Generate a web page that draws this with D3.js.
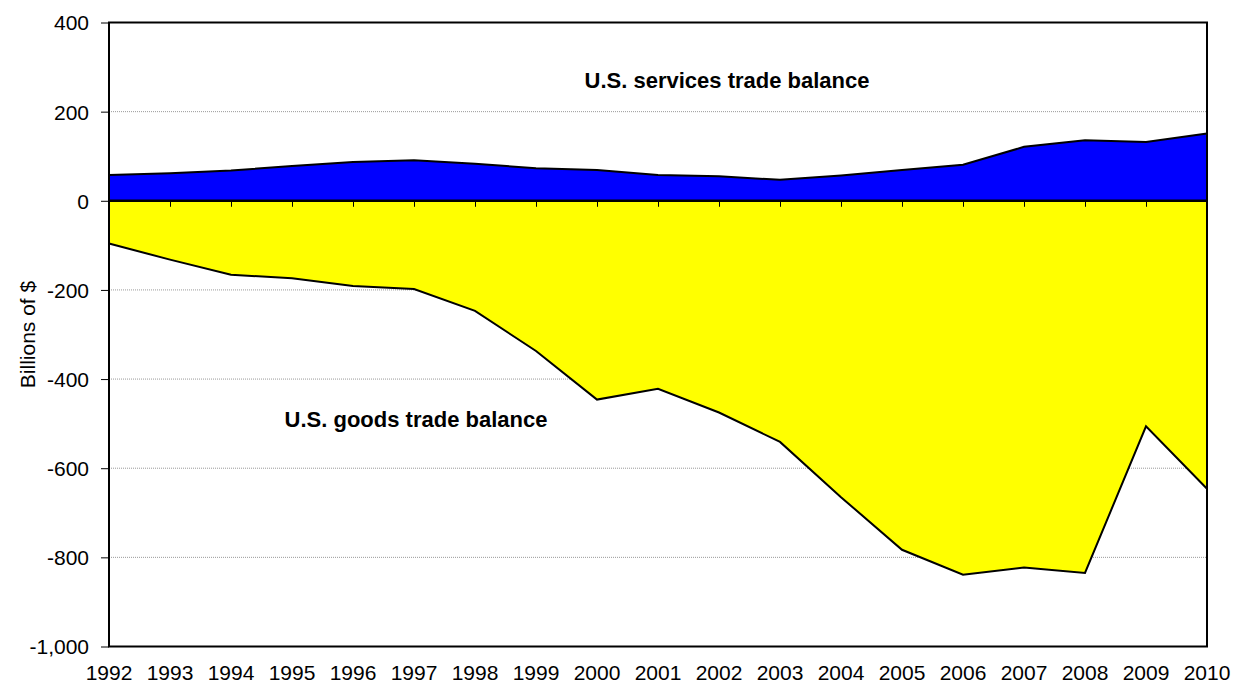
<!DOCTYPE html>
<html>
<head>
<meta charset="utf-8">
<script src="https://cdn.jsdelivr.net/npm/d3@7"></script>
<style>
  body { margin: 0; background: #fff; }
  text { font-family: "Liberation Sans", Arial, sans-serif; }
</style>
</head>
<body>
<script>
let w = 1235;
let h = 684;

let years = [1992, 1993, 1994, 1995, 1996, 1997, 1998, 1999, 2000, 2001,
             2002, 2003, 2004, 2005, 2006, 2007, 2008, 2009, 2010];
// services balance, billions of $
let services = [58, 62, 68, 78, 87, 91, 83, 73, 69, 58,
                55, 47, 57, 69, 81, 121, 136, 132, 151];
// goods balance, billions of $
let goods = [-96, -132, -166, -174, -191, -198, -247, -337, -446, -422,
             -475, -541, -665, -783, -839, -823, -835, -506, -646];
let yTicks = [400, 200, 0, -200, -400, -600, -800, -1000];

let plotL = 109, plotR = 1207, plotT = 22.5, plotB = 646.5;

let xScale = d3.scalePoint()
  .domain(years)
  .range([plotL, plotR]);

let yScale = d3.scaleLinear()
  .domain([-1000, 400])
  .range([plotB, plotT]);

let svg = d3.select("body")
  .append("svg")
  .attr("width", w)
  .attr("height", h);

// gridlines
svg.selectAll("line.grid")
  .data(yTicks.filter(d => d != 400 && d != -1000 && d != 0))
  .enter()
  .append("line")
  .attr("class", "grid")
  .attr("x1", plotL)
  .attr("x2", plotR)
  .attr("y1", d => yScale(d))
  .attr("y2", d => yScale(d))
  .attr("stroke", "#999")
  .attr("stroke-width", 1)
  .attr("stroke-dasharray", "1,1");

// areas
let area = d3.area()
  .x((d, i) => xScale(years[i]))
  .y0(yScale(0))
  .y1(d => yScale(d));

let edge = d3.line()
  .x((d, i) => xScale(years[i]))
  .y(d => yScale(d));

svg.append("path")
  .datum(services)
  .attr("d", area)
  .attr("fill", "#0000ff");

svg.append("path")
  .datum(goods)
  .attr("d", area)
  .attr("fill", "#ffff00");

[services, goods].forEach(s => {
  svg.append("path")
    .datum(s)
    .attr("d", edge)
    .attr("fill", "none")
    .attr("stroke", "#000")
    .attr("stroke-width", 2);
});

// zero line with year ticks
let xAxis = d3.axisBottom(xScale)
  .tickSize(6)
  .tickFormat("");

let zero = svg.append("g")
  .attr("transform", "translate(0," + yScale(0) + ")")
  .call(xAxis);
zero.select(".domain").remove();
zero.selectAll("line").attr("stroke", "#000").attr("stroke-width", 1);

svg.append("line")
  .attr("x1", plotL)
  .attr("x2", plotR)
  .attr("y1", yScale(0))
  .attr("y2", yScale(0))
  .attr("stroke", "#000")
  .attr("stroke-width", 2.5);

// plot frame
svg.append("rect")
  .attr("x", plotL)
  .attr("y", plotT)
  .attr("width", plotR - plotL)
  .attr("height", plotB - plotT)
  .attr("fill", "none")
  .attr("stroke", "#000")
  .attr("stroke-width", 2);

// y axis (plain hyphen for negatives, like the original)
let fmt = d3.format(",d");
let yAxis = d3.axisLeft(yScale)
  .tickValues(yTicks)
  .tickSize(8)
  .tickPadding(12)
  .tickFormat(d => fmt(d).replace("\u2212", "-"));

let ya = svg.append("g")
  .attr("transform", "translate(" + plotL + ",0)")
  .call(yAxis);
ya.select(".domain").remove();
ya.selectAll("line").attr("stroke", "#000");
ya.selectAll("text")
  .attr("font-family", "Liberation Sans, Arial, sans-serif")
  .attr("font-size", "21px")
  .attr("dy", "0.35em")
  .attr("fill", "#000");

// x labels
svg.selectAll("text.year")
  .data(years)
  .enter()
  .append("text")
  .attr("class", "year")
  .attr("x", d => xScale(d))
  .attr("y", 680)
  .attr("text-anchor", "middle")
  .attr("font-size", "21px")
  .attr("fill", "#000")
  .text(d => d);

// axis title
svg.append("text")
  .attr("transform", "translate(35," + yScale(-300) + ") rotate(-90)")
  .attr("text-anchor", "middle")
  .attr("font-size", "21px")
  .attr("fill", "#000")
  .text("Billions of $");

// series labels
svg.append("text")
  .attr("x", 727)
  .attr("y", 88)
  .attr("text-anchor", "middle")
  .attr("font-size", "22px")
  .attr("font-weight", "bold")
  .text("U.S. services trade balance");

svg.append("text")
  .attr("x", 416)
  .attr("y", 427)
  .attr("text-anchor", "middle")
  .attr("font-size", "22px")
  .attr("font-weight", "bold")
  .text("U.S. goods trade balance");
</script>
</body>
</html>
